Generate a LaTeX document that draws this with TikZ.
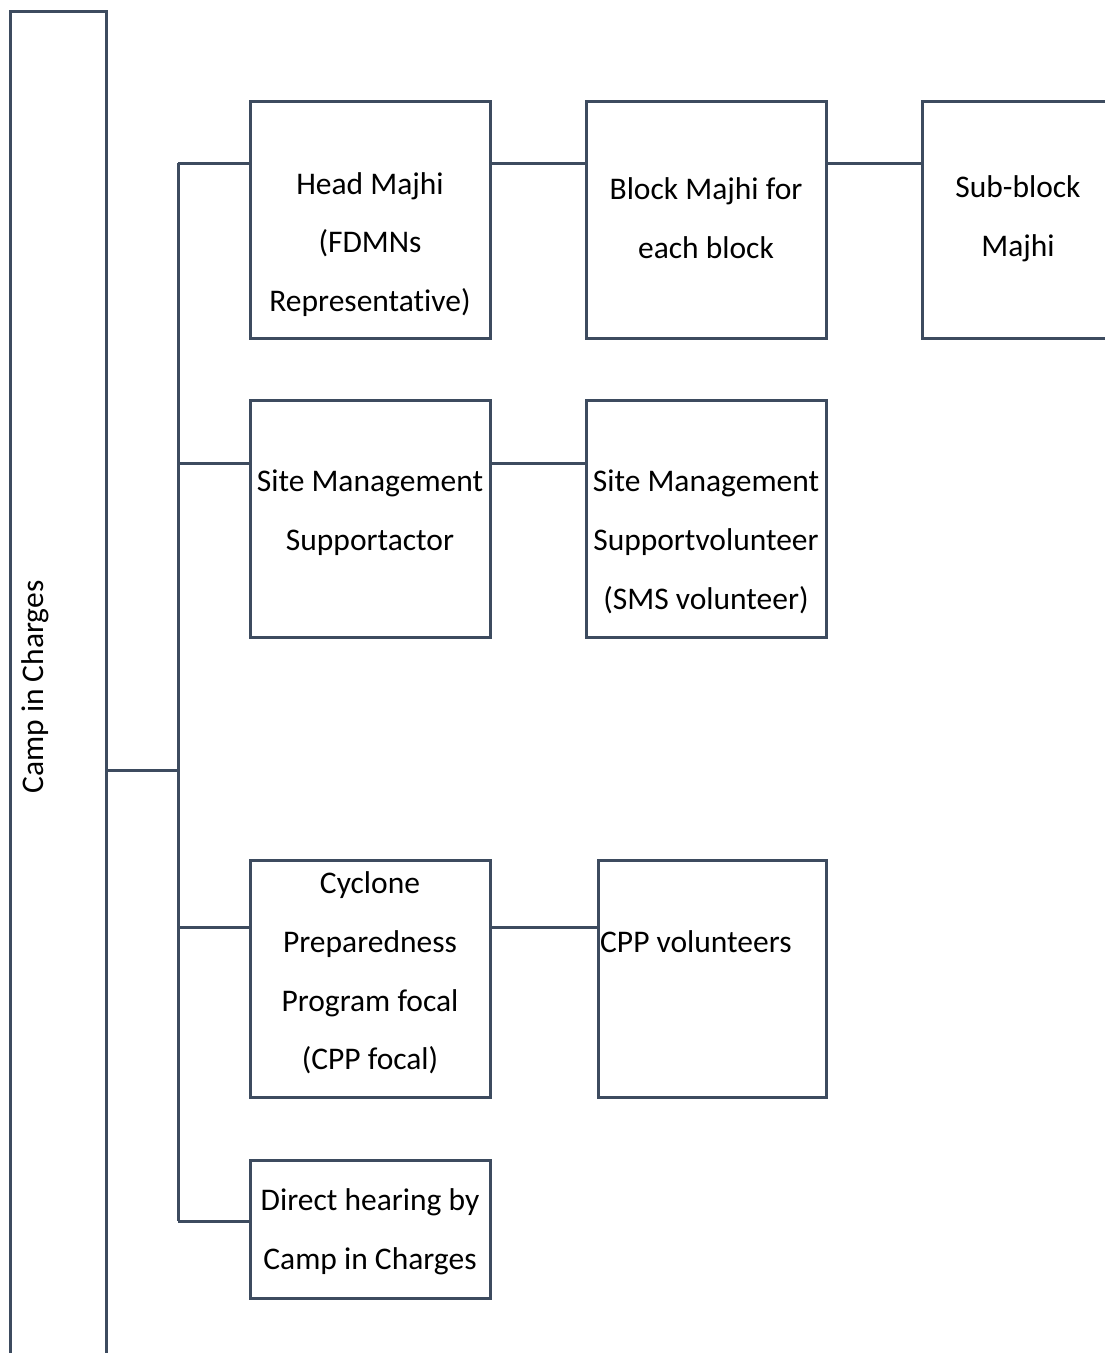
\documentclass[tikz,border=0pt]{standalone}
\usepackage{fontspec}
\setmainfont[Ligatures=NoCommon]{Carlito}
\definecolor{slate}{RGB}{61,75,95}
\begin{document}
\begin{tikzpicture}[x=1pt,y=-1pt,
  line/.style={draw=slate,line width=3pt},
  box/.style={line,minimum width=240pt,minimum height=237pt,inner sep=0pt},
  txt/.style={align=center,font=\fontsize{31.5}{58.7}\selectfont,inner sep=0pt,text=black}]
\useasboundingbox (0,0) rectangle (1104,1353);

% root column, open at the bottom
\draw[line] (10.5,1365) -- (10.5,11.5) -- (106.5,11.5) -- (106.5,1365);
\node[txt,rotate=90] (camp) at (35,687) {Camp in Charges};
\coordinate (root) at (106.5,770);
\coordinate (hub) at (178,770);

% boxes
\node[box] (head) at (370,219.5) {};
\node[box] (block) at (706,219.5) {};
\node[box] (sub) at (1042,219.5) {};
\node[box] (sma) at (370,519) {};
\node[box] (smv) at (706,519) {};
\node[box] (cpp) at (370,978.5) {};
\node[box,minimum width=228pt] (cppv) at (712,978.5) {};
\node[box,minimum height=138pt] (direct) at (370,1229) {};

% texts
\node[txt] (tHead) at (370,244.5) {Head Majhi\\(FDMNs\\Representative)};
\node[txt] (tBlock) at (706,218.5) {Block Majhi for\\each block};
\node[txt] (tSub) at (1018,218.5) {Sub-block\\Majhi};
\node[txt] (tSma) at (370,512.5) {Site Management\\Supportactor};
\node[txt] (tSmv) at (706,542) {Site Management\\Supportvolunteer\\(SMS volunteer)};
\node[txt] (tCpp) at (370,973) {Cyclone\\Preparedness\\Program focal\\(CPP focal)};
\node[txt,anchor=west] (tCppv) at (600,942) {CPP volunteers};
\node[txt] (tDirect) at (370,1232) {Direct hearing by\\Camp in Charges};

% trunk and branches
\coordinate (b1) at (178,163);
\coordinate (b2) at (178,463);
\coordinate (b3) at (178,927);
\coordinate (b4) at (178,1221);
\draw[line] (root) -- (hub);
\draw[line] (b1) -- (b4);
\draw[line] (b1) -- (b1 -| head.west);
\draw[line] (b2) -- (b2 -| sma.west);
\draw[line] (b3) -- (b3 -| cpp.west);
\draw[line] (b4) -- (b4 -| direct.west);

% chains
\draw[line] (b1 -| head.east) -- (b1 -| block.west);
\draw[line] (b1 -| block.east) -- (b1 -| sub.west);
\draw[line] (b2 -| sma.east) -- (b2 -| smv.west);
\draw[line] (b3 -| cpp.east) -- (b3 -| cppv.west);
\end{tikzpicture}
\end{document}
